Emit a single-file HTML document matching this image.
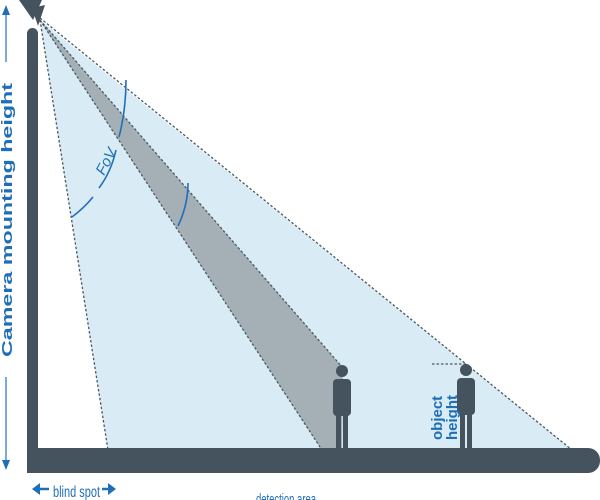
<!DOCTYPE html>
<html><head><meta charset="utf-8"><style>
html,body{margin:0;padding:0;background:#fff;width:600px;height:500px;overflow:hidden}
svg{display:block;font-family:"Liberation Sans",sans-serif}
</style></head><body>
<svg width="600" height="500" viewBox="0 0 600 500">
<polygon points="40,20 108,450 572,450" fill="#d9ebf5"/>
<polygon points="40,20 322,450 342,450 343,368" fill="#a4b0b6"/>
<g stroke="#4a5862" stroke-width="1.3" stroke-dasharray="2.5,2" fill="none">
<line x1="40" y1="20" x2="108" y2="450"/>
<line x1="40" y1="18" x2="572" y2="450"/>
<line x1="40" y1="20" x2="322" y2="450"/>
<line x1="40" y1="20" x2="343" y2="368"/>
<line x1="432" y1="364" x2="466" y2="364"/>
</g>
<g stroke="#1f6fb8" stroke-width="1.6" fill="none">
<path d="M72,217 Q84,208 93,197"/>
<path d="M99,188 Q111,172 116,150"/>
<path d="M119,137 Q126,110 126,80"/>
<path d="M188,183 Q188,205 178,226"/>
</g>
<text x="0" y="0" transform="translate(104,176) rotate(-62)" font-size="15" font-style="italic" fill="#1f6fb8">FoV</text>
<rect x="27" y="28" width="11" height="440" rx="5.5" fill="#45535e"/>
<polygon points="19,0 42,0 33,20" fill="#45535e"/>
<polygon points="32,8 45,5 38,26" fill="#45535e"/>
<rect x="27" y="448" width="573" height="25" rx="12" fill="#45535e"/>
<rect x="27" y="448" width="20" height="25" fill="#45535e"/>
<g fill="#45535e">
<circle cx="342" cy="371" r="6"/>
<rect x="333" y="379" width="18" height="37" rx="4"/>
<rect x="336" y="405" width="5" height="46"/>
<rect x="343" y="405" width="5" height="46"/>
<circle cx="466" cy="370" r="6"/>
<rect x="457" y="378" width="18" height="37" rx="4"/>
<rect x="460" y="404" width="5" height="47"/>
<rect x="467" y="404" width="5" height="47"/>
</g>
<text transform="translate(442,440) rotate(-90)" font-size="15" font-weight="bold" fill="#1f6fb8">object</text>
<text transform="translate(457,440) rotate(-90)" font-size="15" font-weight="bold" fill="#1f6fb8">height</text>
<text transform="translate(12,357) rotate(-90)" font-size="15" font-weight="bold" fill="#1f6fb8" textLength="274" lengthAdjust="spacingAndGlyphs">Camera mounting height</text>
<g stroke="#4a8fd0" stroke-width="1.5">
<line x1="6" y1="12" x2="6" y2="62"/>
<line x1="6" y1="377" x2="6" y2="462"/>
</g>
<polygon points="6,5 2,15 10,15" fill="#1f6fb8"/>
<polygon points="6,470 2,460 10,460" fill="#1f6fb8"/>
<text x="53" y="497" font-size="16" fill="#1f6fb8" textLength="47" lengthAdjust="spacingAndGlyphs">blind spot</text>
<line x1="38" y1="489" x2="49" y2="489" stroke="#1f6fb8" stroke-width="2.5"/>
<polygon points="32,489 40,483 40,495" fill="#1f6fb8"/>
<line x1="102" y1="489" x2="110" y2="489" stroke="#1f6fb8" stroke-width="2.5"/>
<polygon points="116,489 108,483 108,495" fill="#1f6fb8"/>
<text x="256" y="504" font-size="15" fill="#1f6fb8" textLength="60" lengthAdjust="spacingAndGlyphs">detection area</text>
</svg>
</body></html>
